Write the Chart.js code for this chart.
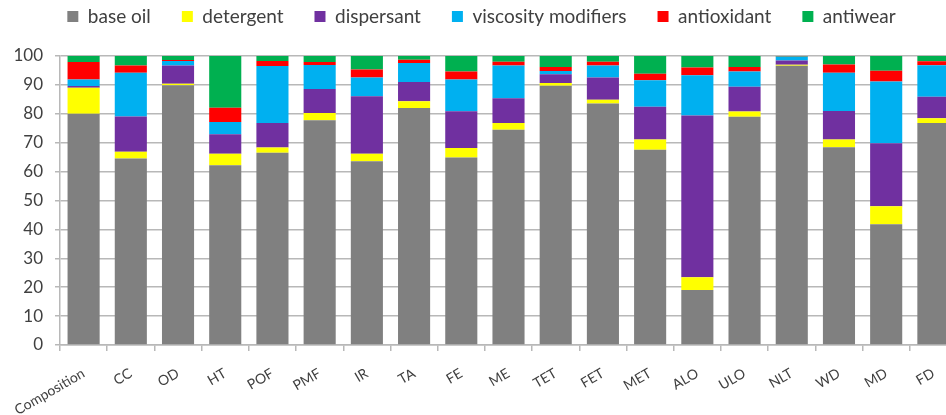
<!DOCTYPE html>
<html>
<head>
<meta charset="utf-8">
<script src="https://cdn.jsdelivr.net/npm/chart.js@4"></script>
<style>
  html, body { margin: 0; padding: 0; background: #fff; overflow: hidden; }
</style>
</head>
<body>
<!-- the plot runs a little past the right edge of the window, as in the reference -->
<canvas id="barChart" width="957" height="415"></canvas>
<script>
// categories and series
const categories = ["Composition", "CC", "OD", "HT", "POF", "PMF", "IR", "TA", "FE", "ME",
  "TET", "FET", "MET", "ALO", "ULO", "NLT", "WD", "MD", "FD"];
const baseOil     = [80.0, 64.5, 89.9, 62.2, 66.5, 77.8, 63.6, 82.0, 64.9, 74.5, 89.7, 83.6, 67.6, 19.0, 79.0, 96.6, 68.4, 41.8, 76.8];
const detergent   = [9.0, 2.4, 0.5, 4.0, 1.8, 2.5, 2.6, 2.3, 3.3, 2.3, 1.0, 1.3, 3.5, 4.4, 1.8, 0.4, 2.7, 6.2, 1.7];
const dispersant  = [0.6, 12.2, 6.3, 6.7, 8.5, 8.3, 19.9, 6.7, 12.7, 8.6, 3.0, 7.7, 11.3, 56.0, 8.6, 1.4, 9.9, 21.8, 7.4];
const viscosity   = [2.3, 15.1, 1.6, 4.3, 19.7, 8.3, 6.5, 6.6, 11.0, 11.3, 1.1, 4.1, 9.2, 13.9, 5.2, 1.3, 13.2, 21.4, 10.9];
const antioxidant = [6.0, 2.5, 0.3, 4.9, 1.8, 1.0, 2.7, 1.1, 2.7, 1.3, 1.4, 1.3, 2.3, 2.7, 1.6, 0.1, 2.9, 3.7, 1.4];
const antiwear    = [2.1, 3.3, 1.4, 17.9, 1.7, 2.1, 4.7, 1.3, 5.4, 2.0, 3.8, 2.0, 6.1, 4.0, 3.8, 0.2, 2.9, 5.1, 1.8];
const yTicks = [0, 10, 20, 30, 40, 50, 60, 70, 80, 90, 100];

const textColor = "#404040";
const gridColor = "#b8b8b8";
const family = "Lato, 'Open Sans', sans-serif";

function series(label, data, color) {
  return {
    label: label,
    data: data,
    backgroundColor: color,
    borderWidth: 0,
    categoryPercentage: 1.0,
    barPercentage: 0.68
  };
}

// lift the legend to the top edge but keep the plot where it is
const legendSpacing = {
  id: "legendSpacing",
  beforeInit: function (chart) {
    const legend = chart.legend;
    const fit = legend.fit;
    legend.fit = function () {
      fit.call(this);
      this.height += 18;
    };
    const draw = legend.draw;
    legend.draw = function () {
      const c = this.ctx;
      c.save();
      c.translate(3, -2);
      draw.call(this);
      c.restore();
    };
  }
};

const ctx = document.getElementById("barChart").getContext("2d");
const chart = new Chart(ctx, {
  type: "bar",
  data: {
    labels: categories,
    datasets: [
      series("base oil", baseOil, "#808080"),
      series("detergent", detergent, "#ffff00"),
      series("dispersant", dispersant, "#7030a0"),
      series("viscosity modifiers", viscosity, "#00b0f0"),
      series("antioxidant", antioxidant, "#ff0000"),
      series("antiwear", antiwear, "#00b050")
    ]
  },
  plugins: [legendSpacing],
  options: {
    responsive: false,
    animation: false,
    layout: { padding: { top: -22, right: 0, left: 0, bottom: 0 } },
    plugins: {
      tooltip: { enabled: false },
      legend: {
        position: "top",
        labels: {
          boxWidth: 11,
          boxHeight: 11,
          padding: 31,
          color: textColor,
          font: { family: family, size: 19 }
        }
      }
    },
    scales: {
      x: {
        stacked: true,
        offset: true,
        grid: {
          offset: true,
          drawOnChartArea: false,
          color: gridColor,
          lineWidth: 1.5,
          tickLength: 6
        },
        border: { color: gridColor, width: 1.5 },
        ticks: {
          color: textColor,
          font: { family: family, size: 14 },
          minRotation: 30,
          maxRotation: 30,
          autoSkip: false,
          padding: 14
        },
        afterFit: function (scale) {
          scale.height = 70;
          scale.paddingLeft = 0;
          scale.paddingRight = 0;
        }
      },
      y: {
        stacked: true,
        min: 0,
        max: 100,
        afterBuildTicks: function (scale) {
          scale.ticks = yTicks.map(function (v) { return { value: v }; });
        },
        grid: {
          color: gridColor,
          lineWidth: 1.5,
          tickLength: 5
        },
        border: { color: gridColor, width: 1.5 },
        ticks: {
          color: textColor,
          font: { family: family, size: 17 },
          padding: 12
        },
        afterFit: function (scale) { scale.width = 60; }
      }
    }
  }
});
</script>
</body>
</html>
